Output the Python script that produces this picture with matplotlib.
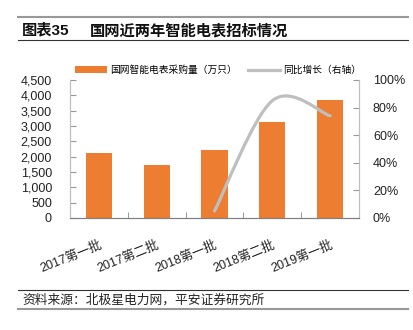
import matplotlib
matplotlib.use("Agg")
import matplotlib.pyplot as plt
from matplotlib.path import Path
from matplotlib.patches import PathPatch, Patch
from matplotlib.lines import Line2D
from matplotlib.ticker import FuncFormatter, MultipleLocator, FixedLocator
from matplotlib.transforms import ScaledTranslation
import numpy as np

plt.rcParams['font.family'] = ['Liberation Sans', 'Noto Sans CJK SC', 'DejaVu Sans']

categories = ["2017第一批", "2017第二批", "2018第一批", "2018第二批", "2019第一批"]
purchase = [2110, 1730, 2220, 3130, 3850]          # 万只
growth_idx = [2, 3, 4]                              # categories with YoY values
growth = [5, 85, 74]                                # %
bar_label = "国网智能电表采购量（万只）"
line_label = "同比增长（右轴）"
title_num = "图表35"
title_text = "国网近两年智能电表招标情况"
source = "资料来源：北极星电力网，平安证券研究所"

W, H = 414, 330
fig = plt.figure(figsize=(W / 100, H / 100), dpi=100)

ax = fig.add_axes([70 / W, 1 - 218 / H, (359 - 70) / W, (218 - 80) / H])
ax2 = ax.twinx()

orange = '#ED7D31'
gray_line = '#BFBFBF'
x = np.arange(len(categories))
ax.bar(x, purchase, width=0.45, color=orange, zorder=2)
ax.set_xlim(-0.5, len(categories) - 0.5)
ax.set_ylim(0, 4500)
ax.yaxis.set_major_locator(MultipleLocator(500))
ax.yaxis.set_major_formatter(FuncFormatter(lambda v, p: f"{int(v):,}"))
ax.set_xticks(x)
ax.set_xticklabels(categories, rotation=22, ha='right', va='top',
                   rotation_mode='anchor', fontsize=9, color='#222222')
shift = ScaledTranslation(4 / 100, 0, fig.dpi_scale_trans)
for lbl in ax.get_xticklabels():
    lbl.set_transform(lbl.get_transform() + shift)
ax.tick_params(axis='x', which='major', length=0, pad=15)
ax.xaxis.set_minor_locator(FixedLocator(np.arange(-0.5, len(categories), 1.0)))
ax.tick_params(axis='x', which='minor', direction='in', length=4, color='#888888')
ax.tick_params(axis='y', direction='in', length=4, color='#999999',
               labelsize=9, labelcolor='#222222', pad=13)

# smooth line (Excel-style Bezier through the data points)
px = [float(v) for v in growth_idx]
py = [float(v) for v in growth]
pts = list(zip(px, py))
verts = [pts[0]]
codes = [Path.MOVETO]
n = len(pts)
for i in range(n - 1):
    p_prev = pts[i - 1] if i > 0 else pts[i]
    p0 = pts[i]
    p1 = pts[i + 1]
    p_next = pts[i + 2] if i + 2 < n else pts[i + 1]
    c1 = (p0[0] + (p1[0] - p_prev[0]) / 6, p0[1] + (p1[1] - p_prev[1]) / 6)
    c2 = (p1[0] - (p_next[0] - p0[0]) / 6, p1[1] - (p_next[1] - p0[1]) / 6)
    verts += [c1, c2, p1]
    codes += [Path.CURVE4] * 3
ax2.add_patch(PathPatch(Path(verts, codes), facecolor='none', edgecolor=gray_line,
                        lw=2.3, capstyle='round', zorder=3))
ax2.set_ylim(0, 100)
ax2.yaxis.set_major_locator(MultipleLocator(20))
ax2.yaxis.set_major_formatter(FuncFormatter(lambda v, p: f"{int(v)}%"))
ax2.tick_params(axis='y', direction='in', length=4, color='#999999',
                labelsize=9, labelcolor='#222222', pad=10)

for a in (ax, ax2):
    a.spines['top'].set_visible(False)
    a.spines['left'].set_color('#BFBFBF')
    a.spines['right'].set_color('#BFBFBF')
    a.spines['bottom'].set_color('#808080')
ax.set_zorder(1)
ax2.set_zorder(2)
ax2.patch.set_visible(False)

handles = [Patch(facecolor=orange, edgecolor='none'),
           Line2D([], [], color=gray_line, lw=2.3)]
fig.legend(handles, [bar_label, line_label], loc='center',
           bbox_to_anchor=(218 / W, 1 - 70 / H), ncol=2, frameon=False,
           handlelength=3.3, handletextpad=0.3, columnspacing=1.2,
           prop={'family': ['Noto Sans CJK SC', 'DejaVu Sans'], 'size': 7})

# header / footer
fig.add_artist(Line2D([18 / W, 408 / W], [1 - 17 / H, 1 - 17 / H], color='#999999', lw=1.5))
fig.add_artist(Line2D([18 / W, 408 / W], [1 - 40 / H, 1 - 40 / H], color='#333333', lw=0.8))
fig.add_artist(Line2D([18 / W, 408 / W], [1 - 290 / H, 1 - 290 / H], color='#333333', lw=0.8))
fig.add_artist(Line2D([18 / W, 408 / W], [1 - 309 / H, 1 - 309 / H], color='#999999', lw=1.5))
fig.text(22 / W, 1 - 30 / H, title_num, fontsize=11, fontweight='bold', va='center', ha='left',
         family=['Liberation Sans', 'Noto Sans CJK SC'], color='#111111')
fig.text(90 / W, 1 - 30 / H, title_text, fontsize=11, fontweight='bold', va='center', ha='left',
         family=['Noto Sans CJK SC'], color='#111111')
fig.text(22 / W, 1 - 300 / H, source, fontsize=9.2, va='center', ha='left',
         family=['Noto Sans CJK SC'], color='#222222', style='italic')

fig.savefig("out.png", dpi=100)
